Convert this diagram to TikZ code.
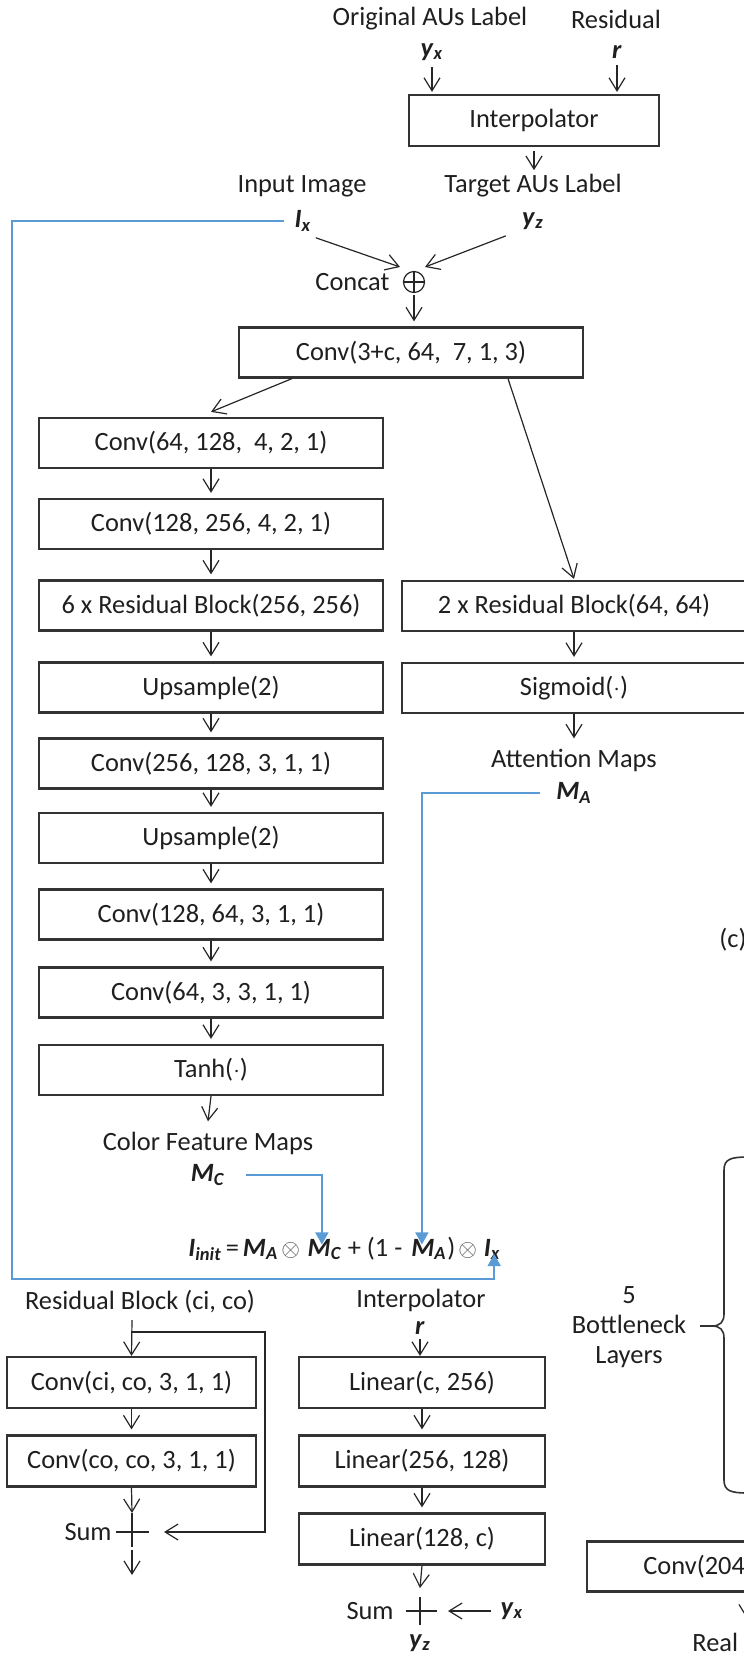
\documentclass[tikz,border=0pt]{standalone}
\usepackage{fontspec}
\setmainfont{Carlito}
\usetikzlibrary{arrows.meta,calc}
\definecolor{bluc}{RGB}{91,155,213}
\newcommand\bv[1]{\textbf{\textit{#1}}}
\newcommand\mlab[2]{\bv{#1}\textsubscript{\bv{#2}}}
\newcommand\otim{{\color{black!70}$\otimes$}}
\begin{document}
\begin{tikzpicture}[x=0.5pt,y=-0.5pt,
  every node/.style={font=\fontsize{13.2}{15}\selectfont, inner sep=0pt, text=black!88},
  box/.style={draw=black!80, line width=1.1pt, minimum width=172pt, minimum height=25pt},
  sbox/.style={box, minimum width=124.5pt, minimum height=25.5pt},
  ln/.style={draw=black!85, line width=0.6pt},
  arr/.style={ln, -{Straight Barb[length=6.5pt,width=8pt]}},
  gap/.style={shorten >=2.5pt},
  blu/.style={draw=bluc, line width=0.8pt},
  bluarr/.style={blu, -{Triangle[length=6pt,width=6.5pt]}}]
\path[use as bounding box] (0,0) rectangle (744,1654);
\clip (0,0) rectangle (744,1654);

% ---------- top ----------
\node (origlab) at (430,19) {Original AUs Label};
\node (reslab) at (616,19) {Residual};
\node (yx) at (432,52) {\mlab{y}{x}};
\node (r) at (617,52) {\bv{r}};
\node[box, minimum width=125pt, minimum height=25.5pt] (interp) at (534,120.5) {Interpolator};
\draw[arr] ([yshift=-3pt]yx.south) -- ([yshift=1pt]yx.south |- interp.north);
\draw[arr] ([yshift=-3pt]r.south) -- ([yshift=1pt]r.south |- interp.north);
\node (inlab) at (302,186) {Input Image};
\node (tgtlab) at (533,186) {Target AUs Label};
\draw[arr] ([yshift=-2pt]interp.south) -- ([yshift=2pt]interp.south |- tgtlab.north);
\node (Ix) at (303,221) {\mlab{I}{x}};
\node (yz) at (533,221) {\mlab{y}{z}};
\node[circle, draw=black!85, line width=0.6pt, minimum size=10.5pt] (oplus) at (414,282) {};
\draw[ln] (oplus.north) -- (oplus.south) (oplus.west) -- (oplus.east);
\node[anchor=east] (concat) at ([xshift=-6.5pt]oplus.west) {Concat};
\draw[arr] ([shift={(2pt,-3pt)}]Ix.south east) -- ($(oplus.center)+(-14,-15)$);
\draw[arr] ([shift={(-8pt,-3pt)}]yz.south west) -- ($(oplus.center)+(11,-15)$);
\node[box] (conv0) at (411,352.5) {Conv(3+c, 64,\ \ 7, 1, 3)};
\draw[arr] ([yshift=-1pt]oplus.south) -- ([yshift=2.5pt]oplus.south |- conv0.north);

% ---------- left column ----------
\node[box] (c1) at (211,443) {Conv(64, 128,\ \ 4, 2, 1)};
\node[box] (c2) at (211,524) {Conv(128, 256, 4,\ 2, 1)};
\node[box] (c3) at (211,605.5) {6 x Residual Block(256, 256)};
\node[box] (c4) at (211,687.5) {Upsample(2)};
\node[box] (c5) at (211,763.5) {Conv(256, 128, 3,\ 1, 1)};
\node[box] (c6) at (211,838) {Upsample(2)};
\node[box] (c7) at (211,914.5) {Conv(128, 64, 3, 1, 1)};
\node[box] (c8) at (211,992.5) {Conv(64, 3,\ 3, 1, 1)};
\node[box] (c9) at (211,1070) {Tanh($\cdot$)};
\foreach \a/\b in {c1/c2,c2/c3,c3/c4,c4/c5,c5/c6,c6/c7,c7/c8,c8/c9}
  \draw[arr,gap] (\a.south) -- (\b.north);
\node (cfm) at (208,1143) {Color Feature Maps};
\node (MC) at (208,1175) {\mlab{M}{C}};
\draw[arr] (c9.south) -- ([yshift=5pt]cfm.north);
\draw[arr] ([xshift=-59.5pt]conv0.south) -- ([yshift=2.5pt]c1.north);

% ---------- right column ----------
\node[box] (r1) at (574,606) {2 x Residual Block(64, 64)};
\node[box] (r2) at (574,688) {Sigmoid($\cdot$)};
\draw[arr] ([xshift=48.5pt]conv0.south) -- ([yshift=0.5pt]r1.north);
\draw[arr,gap] (r1.south) -- (r2.north);
\node (attn) at (574,760) {Attention Maps};
\node (MA) at (574,793) {\mlab{M}{A}};
\draw[arr] (r2.south) -- ([yshift=5pt]attn.north);

% ---------- formula ----------
\node[anchor=base west] (fa) at (188,1256) {\mlab{I}{init}\kern2pt=\kern2pt\mlab{M}{A}\kern1.5pt\otim\kern3.5pt};
\node[anchor=base west] (fMC) at (fa.base east) {\mlab{M}{C}};
\node[anchor=base west] (fb) at (fMC.base east) {\kern2.5pt+\kern3pt(1\kern3pt-\kern4pt};
\node[anchor=base west] (fMA) at (fb.base east) {\mlab{M}{A}};
\node[anchor=base west] (fc) at (fMA.base east) {)\kern1.5pt\otim\kern3pt};
\node[anchor=base west] (fIx) at (fc.base east) {\mlab{I}{x}};

\draw[bluarr] ([xshift=10pt]MC.east) -| ([shift={(-1.5pt,-3pt)}]fMC.north);
\draw[bluarr] ([xshift=-8pt]MA.west) -| ([shift={(-3.5pt,-3pt)}]fMA.north);
\coordinate (loopbot) at (12,1279);
\draw[bluarr] ([xshift=-5pt]Ix.west) -| (loopbot) -| ([shift={(1pt,3pt)}]fIx.south);

% ---------- residual block ----------
\node (rbt) at (140,1302) {Residual Block (ci, co)};
\node[sbox] (rb1) at (131.5,1382.5) {Conv(ci, co, 3, 1, 1)};
\node[sbox] (rb2) at (131.5,1461) {Conv(co, co, 3, 1, 1)};
\coordinate (rbtop) at (132,1320);
\coordinate (rbbr) at (132,1332);
\coordinate (rbsum) at (132,1532);
\draw[arr] (rbtop) -- (rb1.north);
\draw[arr] (rbbr) -- ++(133,0) |- ($(rbsum)+(32,0)$);
\draw[arr,gap] (rb1.south) -- (rb2.north);
\draw[arr] (rb2.south) -- ($(rbsum)+(0,-19)$);
\draw[ln] ($(rbsum)+(0,-19)$) -- ($(rbsum)+(0,15)$) ($(rbsum)+(-16,0)$) -- ($(rbsum)+(17,0)$);
\node[anchor=east] (rbsumlab) at ($(rbsum)+(-20,0)$) {Sum};
\draw[arr] ($(rbsum)+(0,18)$) -- ($(rbsum)+(0,43)$);

% ---------- interpolator ----------
\node (ipt) at (421,1300) {Interpolator};
\node (ir) at (420,1328) {\bv{r}};
\node[sbox, minimum width=123pt] (l1) at (422,1382.5) {Linear(c, 256)};
\node[sbox, minimum width=123pt] (l2) at (422,1461) {Linear(256, 128)};
\node[sbox, minimum width=123pt] (l3) at (422,1539) {Linear(128, c)};
\draw[arr] ([yshift=-2pt]ir.south) -- (ir.south |- l1.north);
\draw[arr,gap] (l1.south) -- (l2.north);
\draw[arr,gap] (l2.south) -- (l3.north);
\coordinate (isum) at (420,1611);
\draw[arr] (l3.south) -- ($(isum)+(0,-23)$);
\draw[ln] ($(isum)+(0,-14)$) -- ($(isum)+(0,14)$) ($(isum)+(-14,0)$) -- ($(isum)+(17,0)$);
\node[anchor=east] (isumlab) at ($(isum)+(-26,0)$) {Sum};
\node (iyx) at (512,1611) {\mlab{y}{x}};
\draw[arr] ([xshift=-4.5pt]iyx.west) -- ($(isum)+(28,0)$);
\node (iyz) at (420,1643) {\mlab{y}{z}};

% ---------- right edge (cut-off part) ----------
\node[anchor=west] (clab) at (719,940) {(c)};
\node[align=center] (bneck) at (629,1327) {5\\Bottleneck\\Layers};
\coordinate (bt) at (712,1326);
\coordinate (btick) at (700,1326);
\draw[ln, draw=black!80, line width=0.8pt] (748,1157) .. controls (731,1157) and (724,1159) .. (724,1170)
  -- (724,1314) .. controls (724,1322) and (720,1326) .. (bt)
  .. controls (720,1326) and (724,1330) .. (724,1338)
  -- (724,1480) .. controls (724,1491) and (731,1493) .. (748,1493);
\draw[ln, draw=black!80, line width=0.8pt] (bt) -- (btick);
\node[box, anchor=west] (c2048) at (586,1566.5) {};
\node[anchor=west] (c2048t) at (643,1567) {Conv(204};
\coordinate (c2048o) at ($(c2048.south west)+(161,3)$);
\draw[arr] (c2048o) -- ++(0,23);
\node[anchor=west] (realt) at (692,1643) {Real /};
\end{tikzpicture}
\end{document}
